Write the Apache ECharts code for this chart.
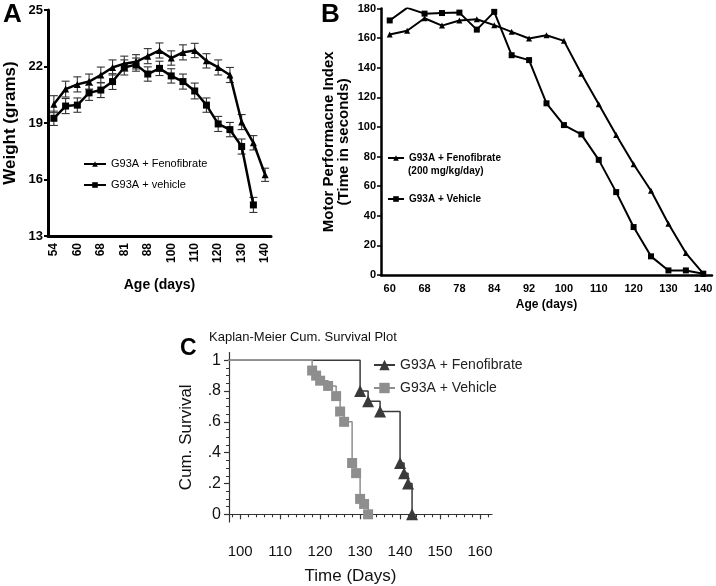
<!DOCTYPE html>
<html><head><meta charset="utf-8">
<script src="https://cdn.jsdelivr.net/npm/echarts@6/dist/echarts.min.js"></script>
<style>html,body{margin:0;padding:0;background:#fff}#c{width:716px;height:586px}</style>
</head><body><div id="c"></div><script>
// ---- Panel A: weight ----
const ageA = ['54','57','60','64','68','74','81','84','88','94','100','105','110','115','120','125','130','135','140'];
const weightFeno = [20.0,20.8,21.05,21.2,21.55,21.95,22.15,22.25,22.55,22.85,22.45,22.75,22.85,22.3,21.95,21.55,19.05,17.95,16.25];
const weightFenoErr = [0.45,0.42,0.4,0.4,0.42,0.4,0.4,0.38,0.4,0.4,0.38,0.4,0.38,0.38,0.4,0.4,0.4,0.38,0.35];
const weightVeh = [19.25,19.9,19.95,20.6,20.75,21.2,21.95,22.1,21.6,21.9,21.5,21.2,20.7,19.95,18.95,18.65,17.75,14.65,null];
const weightVehErr = [0.38,0.4,0.38,0.4,0.4,0.42,0.4,0.35,0.38,0.38,0.38,0.4,0.42,0.38,0.4,0.38,0.4,0.4,null];
const yTicksA = [13,16,19,22,25];
// ---- Panel B: motor performance ----
const ageB = ['60','64','68','74','78','81','84','88','92','96','100','105','110','115','120','125','130','135','140'];
const motorFeno = [162.5,165,173.5,168.5,172,172.8,168.8,164.3,159.8,162,158.2,136,115.3,94.6,74.8,56.9,34.6,14.8,0.9];
const motorVeh = [172,180.5,176.6,177,177.3,165.8,177.8,148.5,145.2,116,101.3,95,77.8,56,32.4,12.6,3.1,3.1,0.9];
// ---- Panel C: Kaplan-Meier ----
const kmFenoDays = [0,130,132,135,140,141,142,143];
const kmFenoSurv = [1,0.8,0.733,0.667,0.333,0.267,0.2,0];
const kmVehDays = [0,118,119,120,122,124,125,126,128,129,130,131,132];
const kmVehSurv = [1,0.933,0.9,0.867,0.833,0.767,0.667,0.6,0.333,0.267,0.1,0.067,0];
const yTicksC = [0,0.2,0.4,0.6,0.8,1];
const yLabelsC = ['0','.2','.4','.6','.8','1'];
const yMinorTicksC = [0.05,0.1,0.15,0.25,0.3,0.35,0.45,0.5,0.55,0.65,0.7,0.75,0.85,0.9,0.95];
const xTicksC = [100,110,120,130,140,150,160];
const xMinorTicksC = [98,102,104,106,108,112,114,116,118,122,124,126,128,132,134,136,138,142,144,146,148,152,154,156,158,162];

const FONT = 'Liberation Sans, Arial, sans-serif';
const chart = echarts.init(document.getElementById('c'), null, {renderer:'canvas'});

function errBars(vals, errs){
  return vals.map((v,i)=> v==null ? null : [i, v-errs[i], v+errs[i]]).filter(d=>d);
}
function errRender(params, api){
  const x = api.value(0);
  const lo = api.coord([x, api.value(1)]);
  const hi = api.coord([x, api.value(2)]);
  const w = 4;
  const st = {stroke:'#333', lineWidth:1.1};
  return {type:'group', children:[
    {type:'line', shape:{x1:lo[0],y1:lo[1],x2:hi[0],y2:hi[1]}, style:st},
    {type:'line', shape:{x1:lo[0]-w,y1:lo[1],x2:lo[0]+w,y2:lo[1]}, style:st},
    {type:'line', shape:{x1:hi[0]-w,y1:hi[1],x2:hi[0]+w,y2:hi[1]}, style:st}
  ]};
}
function kmData(days, surv){
  return days.map((d,i)=> i===0 ? {value:[d,surv[i]], symbol:'none'} : [d,surv[i]]);
}
const strip = n => n.replace(/^[ABC]: /,'');

const boldLbl = {color:'#000', fontFamily:FONT, fontWeight:'bold'};

const option = {
  animation:false,
  backgroundColor:'#fff',
  grid:[
    {left:48, top:10, width:223, height:226},
    {left:381, top:8.6, width:331, height:266.4},
    {left:229, top:352.5, width:263, height:170.5}
  ],
  xAxis:[
    {type:'category', gridIndex:0, data:ageA, boundaryGap:true,
     axisLine:{lineStyle:{color:'#000', width:3}}, axisTick:{show:false},
     axisLabel:Object.assign({}, boldLbl, {fontSize:12, rotate:90, interval:1, margin:7}),
     name:'Age (days)', nameLocation:'middle', nameGap:42,
     nameTextStyle:Object.assign({}, boldLbl, {fontSize:14})},
    {type:'category', gridIndex:1, data:ageB, boundaryGap:true,
     axisLine:{lineStyle:{color:'#000', width:2.5}}, axisTick:{show:false},
     axisLabel:Object.assign({}, boldLbl, {fontSize:11, interval:1, margin:8}),
     name:'Age (days)', nameLocation:'middle', nameGap:24,
     nameTextStyle:Object.assign({}, boldLbl, {fontSize:12})},
    {type:'value', gridIndex:2, position:'bottom', min:97.2, max:163, offset:10,
     axisLine:{lineStyle:{color:'#333', width:1.2}},
     axisTick:{customValues:xTicksC, length:5, lineStyle:{color:'#333', width:1.2}},
     axisLabel:{customValues:xTicksC, color:'#111', fontFamily:FONT, fontSize:15, margin:12},
     splitLine:{show:false},
     name:'Time (Days)', nameLocation:'middle', nameGap:36,
     nameTextStyle:{color:'#111', fontFamily:FONT, fontSize:17, padding:[0,20,0,0]}},
    {type:'value', gridIndex:2, position:'bottom', min:97.2, max:163, offset:10,
     axisLine:{show:false},
     axisTick:{customValues:xMinorTicksC, length:3, lineStyle:{color:'#333', width:1.1}},
     axisLabel:{show:false}, splitLine:{show:false}}
  ],
  yAxis:[
    {type:'value', gridIndex:0, min:13, max:25,
     axisLine:{show:true, lineStyle:{color:'#000', width:3}},
     axisTick:{show:true, customValues:yTicksA, length:4, lineStyle:{color:'#000', width:2}},
     axisLabel:Object.assign({}, boldLbl, {fontSize:13, customValues:yTicksA, margin:5}),
     splitLine:{show:false},
     name:'Weight (grams)', nameLocation:'middle', nameGap:29,
     nameTextStyle:Object.assign({}, boldLbl, {fontSize:17})},
    {type:'value', gridIndex:1, min:0, max:180, interval:20,
     axisLine:{show:true, lineStyle:{color:'#000', width:2.5}},
     axisTick:{show:true, length:4, lineStyle:{color:'#000', width:1.5}},
     axisLabel:Object.assign({}, boldLbl, {fontSize:11, margin:5}),
     splitLine:{show:false},
     name:'Motor Performacne Index\n(Time in seconds)', nameLocation:'middle', nameGap:30,
     nameTextStyle:Object.assign({}, boldLbl, {fontSize:15, lineHeight:15})},
    {type:'value', gridIndex:2, position:'left', min:-0.05, max:1.05,
     axisLine:{show:true, lineStyle:{color:'#333', width:1.2}},
     axisTick:{show:true, customValues:yTicksC, length:5, lineStyle:{color:'#333', width:1.2}},
     axisLabel:{customValues:yTicksC, color:'#111', fontFamily:FONT, fontSize:16, margin:8,
       formatter: v => yLabelsC[yTicksC.findIndex(t=>Math.abs(t-v)<1e-6)]},
     splitLine:{show:false},
     name:'Cum. Survival', nameLocation:'middle', nameGap:34,
     nameTextStyle:{color:'#111', fontFamily:FONT, fontSize:17}},
    {type:'value', gridIndex:2, position:'left', min:-0.05, max:1.05,
     axisLine:{show:false},
     axisTick:{show:true, customValues:yMinorTicksC, length:3, lineStyle:{color:'#333', width:1}},
     axisLabel:{show:false}, splitLine:{show:false}}
  ],
  legend:[
    {left:83, top:158.5, padding:0, orient:'vertical', itemGap:10, itemWidth:22, itemHeight:7,
     data:['A: G93A + Fenofibrate','A: G93A + vehicle'], formatter:strip,
     textStyle:{color:'#000', fontFamily:FONT, fontSize:11}, selectedMode:false},
    {left:387, top:153, padding:0, orient:'vertical', itemGap:31, itemWidth:16, itemHeight:7,
     data:['B: G93A + Fenofibrate','B: G93A + Vehicle'], formatter:strip,
     textStyle:{color:'#000', fontFamily:FONT, fontSize:10, fontWeight:'bold'}, selectedMode:false},
    {left:373, top:358, padding:0, orient:'vertical', itemGap:9, itemWidth:21, itemHeight:13,
     data:['C: G93A + Fenofibrate','C: G93A + Vehicle'], formatter:strip,
     textStyle:{color:'#222', fontFamily:FONT, fontSize:14}, selectedMode:false}
  ],
  graphic:[
    {type:'text', left:3, top:2, style:{text:'A', font:'bold 26px '+FONT, fill:'#000'}},
    {type:'text', left:321, top:2, style:{text:'B', font:'bold 26px '+FONT, fill:'#000'}},
    {type:'text', left:180, top:337, style:{text:'C', font:'bold 23px '+FONT, fill:'#000'}},
    {type:'text', left:209, top:331, style:{text:'Kaplan-Meier Cum. Survival Plot', font:'13px '+FONT, fill:'#111'}},
    {type:'text', left:408, top:166, style:{text:'(200 mg/kg/day)', font:'bold 10px '+FONT, fill:'#000'}}
  ],
  series:[
    {type:'custom', xAxisIndex:0, yAxisIndex:0, renderItem:errRender, data:errBars(weightFeno, weightFenoErr), z:1, silent:true},
    {type:'custom', xAxisIndex:0, yAxisIndex:0, renderItem:errRender, data:errBars(weightVeh, weightVehErr), z:1, silent:true},
    {name:'A: G93A + Fenofibrate', type:'line', xAxisIndex:0, yAxisIndex:0, data:weightFeno,
     symbol:'triangle', symbolSize:7, lineStyle:{color:'#000', width:2.5}, itemStyle:{color:'#000'}, z:3},
    {name:'A: G93A + vehicle', type:'line', xAxisIndex:0, yAxisIndex:0, data:weightVeh,
     symbol:'rect', symbolSize:7, lineStyle:{color:'#000', width:2.5}, itemStyle:{color:'#000'}, z:3},
    {name:'B: G93A + Fenofibrate', type:'line', xAxisIndex:1, yAxisIndex:1, data:motorFeno,
     symbol:'triangle', symbolSize:6, lineStyle:{color:'#000', width:2}, itemStyle:{color:'#000'}},
    {name:'B: G93A + Vehicle', type:'line', xAxisIndex:1, yAxisIndex:1, data:motorVeh,
     symbol:'rect', symbolSize:6, lineStyle:{color:'#000', width:2}, itemStyle:{color:'#000'}},
    {name:'C: G93A + Fenofibrate', type:'line', xAxisIndex:2, yAxisIndex:2, step:'end',
     data:kmData(kmFenoDays, kmFenoSurv), symbol:'triangle', symbolSize:12, clip:true,
     lineStyle:{color:'#3a3a3a', width:1.5}, itemStyle:{color:'#3a3a3a'}, z:2},
    {name:'C: G93A + Vehicle', type:'line', xAxisIndex:2, yAxisIndex:2, step:'end',
     data:kmData(kmVehDays, kmVehSurv), symbol:'rect', symbolSize:10, clip:true,
     lineStyle:{color:'#8e8e8e', width:1.5}, itemStyle:{color:'#8e8e8e'}, z:3}
  ]
};
chart.setOption(option);
</script></body></html>
